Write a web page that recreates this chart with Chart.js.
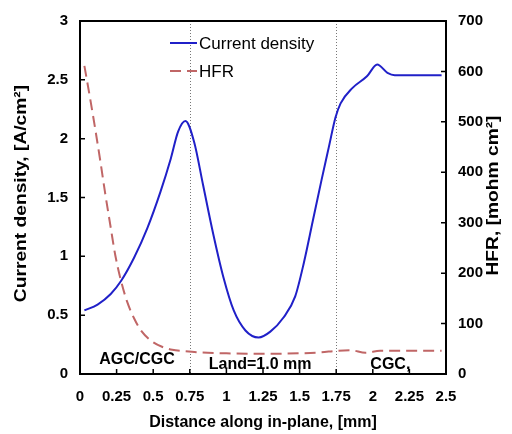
<!DOCTYPE html>
<html>
<head>
<meta charset="utf-8">
<script src="https://cdn.jsdelivr.net/npm/chart.js@4.4.0/dist/chart.umd.min.js"></script>
<style>
html, body { margin: 0; padding: 0; background: #fff; }
</style>
</head>
<body>
<canvas id="chart" width="512" height="434"></canvas>
<script>
// current density along the in-plane distance
const cdX = [0.03, 0.12, 0.21, 0.28, 0.37, 0.46, 0.55, 0.62, 0.67, 0.72, 0.78, 0.84, 0.91, 0.98, 1.05, 1.13, 1.22, 1.30, 1.39, 1.47, 1.53, 1.59, 1.65, 1.70, 1.745, 1.78, 1.86, 1.96, 2.03, 2.10, 2.15, 2.47];
const cdY = [0.54, 0.59, 0.68, 0.79, 0.99, 1.24, 1.55, 1.83, 2.06, 2.15, 1.97, 1.61, 1.19, 0.82, 0.54, 0.37, 0.31, 0.36, 0.48, 0.66, 0.95, 1.30, 1.65, 1.93, 2.18, 2.30, 2.43, 2.53, 2.63, 2.56, 2.54, 2.54];

// HFR along the in-plane distance
const hfrX = [0.03, 0.07, 0.10, 0.14, 0.17, 0.21, 0.24, 0.28, 0.32, 0.37, 0.42, 0.49, 0.56, 0.63, 0.72, 0.80, 1.00, 1.25, 1.50, 1.65, 1.75, 1.85, 1.95, 2.05, 2.47];
const hfrY = [611, 545, 493, 420, 362, 290, 237, 185, 145, 110, 85, 65, 54, 48, 45, 43, 41, 40, 41, 43, 46, 47, 42, 46, 46];

const dividers = [0.75, 1.75];
const regionText = ['AGC/CGC', 'Land=1.0 mm', 'CGC,'];
const regionX = [0.39, 1.23, 2.12];
const regionY = [0.12, 0.08, 0.08];

const FONT = "'Liberation Sans', Arial, sans-serif";
Chart.defaults.font.family = FONT;
Chart.defaults.color = '#000';

function pts(xs, ys) {
    return xs.map(function(x, i) { return { x: x, y: ys[i] }; });
}

function plain(v) {
    return String(Number(v.toFixed(2)));
}

// vertical axis title, reading upward, a bit stretched like the source picture
function sideTitle(ctx, text, cx, cy) {
    ctx.save();
    ctx.font = 'bold 16px ' + FONT;
    ctx.fillStyle = '#000';
    ctx.textAlign = 'center';
    ctx.textBaseline = 'middle';
    ctx.translate(cx, cy);
    ctx.rotate(-Math.PI / 2);
    ctx.scale(1.2, 1);
    ctx.fillText(text, 0, 0);
    ctx.restore();
}

const extras = {
    id: 'extras',
    beforeDatasetsDraw(chart) {
        const ctx = chart.ctx;
        const a = chart.chartArea;
        const x = chart.scales.x;
        ctx.save();
        ctx.strokeStyle = '#777';
        ctx.lineWidth = 1;
        ctx.setLineDash([1, 2]);
        dividers.forEach(function(d) {
            const px = Math.round(x.getPixelForValue(d)) + 0.5;
            ctx.beginPath();
            ctx.moveTo(px, a.top);
            ctx.lineTo(px, a.bottom);
            ctx.stroke();
        });
        ctx.restore();
    },
    afterDatasetsDraw(chart) {
        const ctx = chart.ctx;
        const a = chart.chartArea;
        const sx = chart.scales.x, sy = chart.scales.y, sy1 = chart.scales.y1;
        ctx.save();
        // frame
        ctx.strokeStyle = '#000';
        ctx.lineWidth = 2;
        ctx.strokeRect(a.left, a.top, a.right - a.left, a.bottom - a.top);
        // inward ticks
        ctx.lineWidth = 1.5;
        ctx.beginPath();
        sx.ticks.forEach(function(t) {
            const px = sx.getPixelForValue(t.value);
            ctx.moveTo(px, a.bottom); ctx.lineTo(px, a.bottom - 5);
        });
        sy.ticks.forEach(function(t) {
            const py = sy.getPixelForValue(t.value);
            ctx.moveTo(a.left, py); ctx.lineTo(a.left + 5, py);
        });
        sy1.ticks.forEach(function(t) {
            const py = sy1.getPixelForValue(t.value);
            ctx.moveTo(a.right, py); ctx.lineTo(a.right - 5, py);
        });
        ctx.stroke();

        // region labels
        ctx.fillStyle = '#000';
        ctx.font = 'bold 16px ' + FONT;
        ctx.textAlign = 'center';
        ctx.textBaseline = 'middle';
        regionText.forEach(function(t, i) {
            ctx.fillText(t, sx.getPixelForValue(regionX[i]), sy.getPixelForValue(regionY[i]));
        });

        // legend
        ctx.font = '17px ' + FONT;
        ctx.textAlign = 'left';
        const lx = a.left + 90, ly = a.top + 22;
        chart.data.datasets.forEach(function(ds, i) {
            const y = ly + i * 28;
            ctx.strokeStyle = ds.borderColor;
            ctx.lineWidth = 2;
            ctx.setLineDash(ds.borderDash || []);
            ctx.beginPath();
            ctx.moveTo(lx, y); ctx.lineTo(lx + 27, y);
            ctx.stroke();
            ctx.setLineDash([]);
            ctx.fillText(ds.label, lx + 29, y + 1);
        });
        ctx.restore();

        const mid = (a.top + a.bottom) / 2;
        sideTitle(ctx, 'Current density, [A/cm\u00B2]', 22, mid - 4);
        sideTitle(ctx, 'HFR, [mohm cm\u00B2]', 494, mid - 2);
    }
};

const tickFont = { size: 15, weight: 'bold' };

new Chart(document.getElementById('chart'), {
    type: 'line',
    data: {
        datasets: [
            {
                label: 'Current density',
                data: pts(cdX, cdY),
                yAxisID: 'y',
                borderColor: '#2020c8',
                borderWidth: 2,
                pointRadius: 0,
                cubicInterpolationMode: 'monotone'
            },
            {
                label: 'HFR',
                data: pts(hfrX, hfrY),
                yAxisID: 'y1',
                borderColor: '#c06666',
                borderWidth: 2,
                borderDash: [11, 6],
                pointRadius: 0,
                cubicInterpolationMode: 'monotone'
            }
        ]
    },
    options: {
        responsive: false,
        animation: false,
        devicePixelRatio: 1,
        layout: { padding: { top: 18, left: 0, right: 0, bottom: 0 } },
        plugins: { legend: { display: false }, tooltip: { enabled: false } },
        scales: {
            x: {
                type: 'linear',
                min: 0, max: 2.5,
                grid: { display: false, drawTicks: false },
                border: { display: false },
                ticks: { stepSize: 0.25, font: tickFont, padding: 14, maxRotation: 0, autoSkip: false, callback: plain },
                title: { display: true, text: 'Distance along in-plane, [mm]', font: { size: 16, weight: 'bold' }, padding: { top: 0, bottom: 2 } },
                afterFit: function(s) { s.height = 60; }
            },
            y: {
                position: 'left',
                min: 0, max: 3,
                grid: { display: false, drawTicks: false },
                border: { display: false },
                ticks: { stepSize: 0.5, font: tickFont, padding: 12, callback: plain },
                afterFit: function(s) { s.width = 80; }
            },
            y1: {
                position: 'right',
                min: 0, max: 700,
                grid: { display: false, drawTicks: false },
                border: { display: false },
                ticks: { stepSize: 100, font: tickFont, padding: 12 },
                afterFit: function(s) { s.width = 66; }
            }
        }
    },
    plugins: [extras]
});
</script>
</body>
</html>
